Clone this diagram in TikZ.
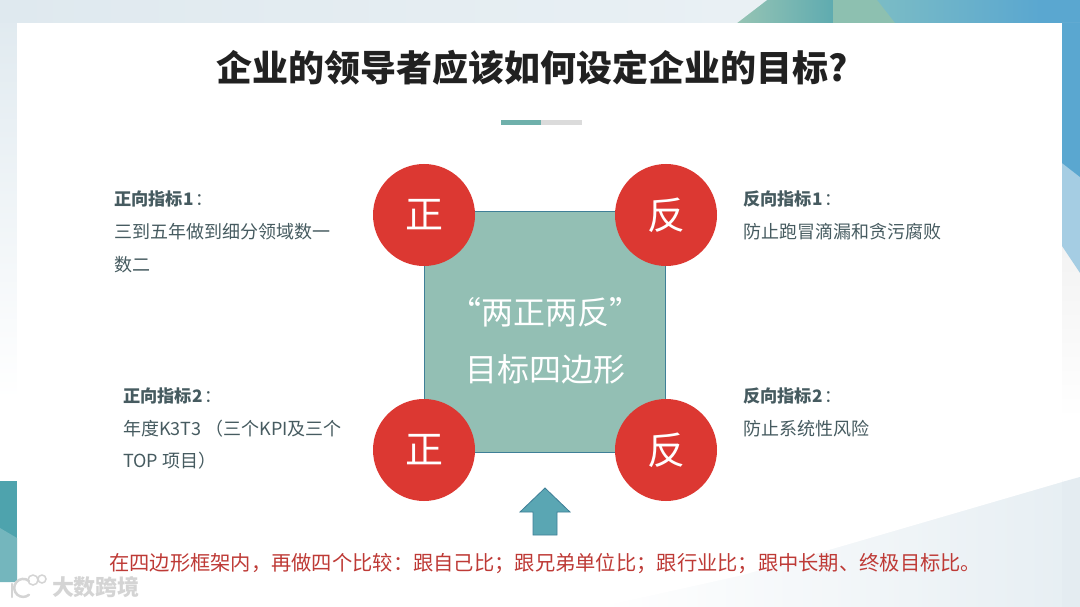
\documentclass[tikz,border=0pt]{standalone}
\usepackage{fontspec}
\setmainfont{Noto Sans CJK SC}
\definecolor{redc}{HTML}{DC3832}
\definecolor{sq}{HTML}{93BFB4}
\definecolor{sqb}{HTML}{3F7F97}
\definecolor{body}{HTML}{465B60}
\definecolor{redt}{HTML}{BE3A36}
\definecolor{bgtop}{HTML}{DFE9EF}
\definecolor{bgend}{HTML}{E9F0F4}
\definecolor{blue1}{HTML}{5AA7D0}
\definecolor{blue2}{HTML}{A5CDE3}
\definecolor{wm}{HTML}{D4D4D4}
\definecolor{facetA}{HTML}{96C4B4}
\definecolor{facetB}{HTML}{5FABB0}
\definecolor{facetC}{HTML}{8DC0B0}
\definecolor{facetD}{HTML}{7BBCC5}
\definecolor{tealA}{HTML}{4EA3AD}
\definecolor{tealB}{HTML}{74B6BD}
\definecolor{divA}{HTML}{6FB0AB}
\definecolor{arrowc}{HTML}{5AA6B3}
\newcommand{\hcolon}{{\mdseries\hspace{2pt}：}}
\tikzset{
 circ/.style={circle,fill=redc,minimum size=102pt,inner sep=0pt,text=white,font=\fontsize{38}{38}\selectfont},
 headt/.style={anchor=west,inner sep=0pt,text=body,font=\fontsize{17.2}{18}\selectfont\bfseries},
 bodyt/.style={anchor=west,inner sep=0pt,text=body,font=\fontsize{18}{18}\selectfont},
 midt/.style={inner sep=0pt,text=white,font=\fontsize{32}{32}\selectfont},
}
\begin{document}
\begin{tikzpicture}[x=1pt,y=-1pt]
\useasboundingbox (0,0) rectangle (1080,607);
% background
\fill[white] (0,0) rectangle (1080,607);
\fill[top color=bgtop,bottom color=white] (0,0) rectangle (17,400);
\shade[left color=bgtop,right color=bgend] (0,0) rectangle (738,23);
% top-right facets
\shade[left color=facetA,right color=facetB] (737,0) rectangle (833,23);
\fill[bgend] (736,-1) -- (767,-1) -- (767,0) -- (737,23) -- (736,23) -- cycle;
\shade[left color=facetD,right color=blue1] (877,0) rectangle (1040,23);
\fill[facetC] (833,0) -- (877,0) -- (895,23) -- (833,23) -- cycle;
\fill[blue1] (1040,0) rectangle (1080,23);
% right strip
\shade[top color=white!95!black,bottom color=white] (1062,240) rectangle (1080,420);
\fill[blue2] (1062,23) -- (1080,23) -- (1080,273) -- (1062,246) -- cycle;
\fill[blue1] (1062,23) -- (1080,23) -- (1080,177) -- (1062,163) -- cycle;
% card
\fill[white] (17,23) rectangle (1062,607);
% bottom facet
\shade[left color=white,right color=bgtop!75!white] (600,480) rectangle (1062,607);
\fill[white] (599,479) -- (1062,479) -- (1062,482) -- (743,575) -- (600,607) -- (599,607) -- cycle;
\fill[bgtop!85!white] (1062,482) -- (1080,477) -- (1080,607) -- (1062,607) -- cycle;
% left teal block
\fill[tealA] (0,481) rectangle (17,582);
\fill[tealB] (0,528) -- (17,538) -- (17,582) -- (0,582) -- cycle;
% title
\node[inner sep=0pt,text=black!87,font=\fontsize{36}{36}\selectfont\bfseries] (title) at (532.5,68) {企业的领导者应该如何设定企业的目标?};
% divider
\fill[divA] (501,120) rectangle (541,125);
\fill[black!14] (541,120) rectangle (582,125);
% square and circles
\node[draw=sqb,fill=sq,line width=0.8pt,minimum size=241pt,inner sep=0pt] (sqr) at (545,332) {};
\node[midt] (m1) at (545,312) {“两正两反”};
\node[midt] (m2) at (545,369) {目标四边形};
\node[circ] (c1) at (424,215) {正};
\node[circ] (c2) at (666,215) {反};
\node[circ] (c3) at (424,450) {正};
\node[circ] (c4) at (666,450) {反};
% arrow
\filldraw[fill=arrowc,draw=sqb,line width=0.8pt] (545,488) -- (570,512) -- (557,512) -- (557,535) -- (533,535) -- (533,512) -- (520,512) -- cycle;
% labels
\node[headt] (a1) at (114,199) {正向指标1\hcolon};
\node[bodyt] (a2) at (114,232) {三到五年做到细分领域数一};
\node[bodyt] (a3) at (114,265) {数二};
\node[headt] (b1) at (123,396) {正向指标2\hcolon};
\node[bodyt] (b2) at (123,429) {年度K3T3 （三个KPI及三个};
\node[bodyt] (b3) at (123,461) {TOP 项目）};
\node[headt] (d1) at (743,199) {反向指标1\hcolon};
\node[bodyt] (d2) at (743,232) {防止跑冒滴漏和贪污腐败};
\node[headt] (e1) at (743,396) {反向指标2\hcolon};
\node[bodyt] (e2) at (743,429) {防止系统性风险};
\node[anchor=west,inner sep=0pt,text=redt,font=\fontsize{20.28}{20}\selectfont] (foot) at (109,564) {在四边形框架内，再做四个比较：跟自己比；跟兄弟单位比；跟行业比；跟中长期、终极目标比。};
% watermark
\draw[wm,line width=2.5pt,line cap=round] (12,584) -- (12,597);
\draw[wm,line width=2.5pt,line cap=round] (29,581) arc[start angle=50,end angle=310,radius=9pt];
\draw[wm,line width=1.5pt] (33,580) circle[radius=5pt] (42,579) circle[radius=4pt];
\node[inner sep=0pt,text=wm,font=\fontsize{22}{22}\selectfont\bfseries] (wmk) at (96,587) {大数跨境};
\end{tikzpicture}
\end{document}
